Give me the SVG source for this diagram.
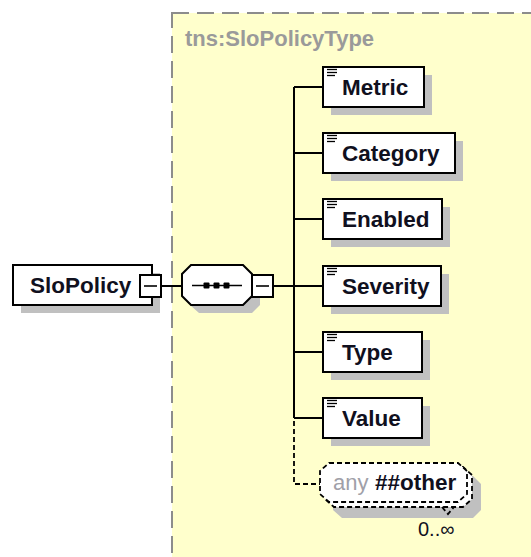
<svg xmlns="http://www.w3.org/2000/svg" width="531" height="557" viewBox="0 0 531 557">
  <defs>
    <style>
      .frame { fill: #ffffcc; stroke: #8c8c8c; stroke-width: 2; stroke-dasharray: 17 8; }
      .shadow { fill: #c0c0c0; stroke: none; }
      .box { fill: #ffffff; stroke: #000000; stroke-width: 2; }
      .dbox { fill: #ffffff; stroke: #000000; stroke-width: 1.8; stroke-dasharray: 5 3; }
      .wire { fill: none; stroke: #000000; stroke-width: 2; }
      .dwire { fill: none; stroke: #000000; stroke-width: 1.8; stroke-dasharray: 5 3; }
      .label { font-family: "Liberation Sans", Arial, sans-serif; font-size: 22.5px; font-weight: bold; fill: #10101e; }
      .type { font-family: "Liberation Sans", Arial, sans-serif; font-size: 22px; font-weight: bold; fill: #9a9a9a; }
      .grey { font-family: "Liberation Sans", Arial, sans-serif; font-size: 22px; fill: #a0a0a8; }
      .occ { font-family: "Liberation Sans", Arial, sans-serif; font-size: 20px; fill: #10101e; }
      .icon { stroke: #000000; stroke-width: 1.3; }
    </style>
    <!-- "documentation" marker drawn in the top-left of each element box -->
    <g id="doc-icon" class="icon">
      <line x1="0" y1="0.5" x2="10" y2="0.5"/>
      <line x1="0" y1="3.5" x2="10" y2="3.5"/>
      <line x1="0" y1="6.5" x2="8" y2="6.5"/>
    </g>
    <!-- collapse (minus) toggle -->
    <g id="minus">
      <rect x="0" y="0" width="21" height="22" class="box"/>
      <line x1="4" y1="11" x2="17" y2="11" stroke="#000" stroke-width="1.6"/>
    </g>
  </defs>

  <!-- complex type frame -->
  <rect class="frame" x="172" y="13" width="420" height="600"/>
  <text class="type" x="185" y="46">tns:SloPolicyType</text>

  <!-- connectors -->
  <g id="connectors">
    <line class="wire" x1="161" y1="286" x2="182" y2="286"/>
    <line class="wire" x1="272" y1="286" x2="294" y2="286"/>
    <line class="wire" x1="294" y1="87" x2="294" y2="418"/>
    <line class="wire" x1="294" y1="87" x2="323" y2="87"/>
    <line class="wire" x1="294" y1="153" x2="323" y2="153"/>
    <line class="wire" x1="294" y1="219" x2="323" y2="219"/>
    <line class="wire" x1="294" y1="286" x2="323" y2="286"/>
    <line class="wire" x1="294" y1="352" x2="323" y2="352"/>
    <line class="wire" x1="294" y1="418" x2="323" y2="418"/>
    <polyline class="dwire" points="294,421 294,484 321,484"/>
  </g>

  <!-- root element -->
  <g id="SloPolicy">
    <rect class="shadow" x="21" y="273" width="139" height="40"/>
    <rect class="box" x="13" y="265" width="139" height="40"/>
    <text class="label" x="30" y="293">SloPolicy</text>
    <use href="#minus" x="140" y="275"/>
  </g>

  <!-- sequence compositor -->
  <g id="sequence">
    <polygon class="shadow" points="199,273 252,273 260,281 260,305 252,313 199,313 190,305 190,281"/>
    <polygon class="box" points="191,265 243,265 252,274 252,296 243,305 191,305 182,296 182,274"/>
    <line x1="192" y1="285.5" x2="242" y2="285.5" stroke="#000" stroke-width="1.6"/>
    <rect x="203.5" y="282.5" width="6" height="6" rx="1" fill="#000"/>
    <rect x="213.5" y="282.5" width="6" height="6" rx="1" fill="#000"/>
    <rect x="223.5" y="282.5" width="6" height="6" rx="1" fill="#000"/>
    <use href="#minus" x="252" y="275"/>
  </g>

  <!-- child elements -->
  <g id="Metric">
    <rect class="shadow" x="331" y="75" width="101" height="40"/>
    <rect class="box" x="323" y="67" width="101" height="40"/>
    <use href="#doc-icon" x="327" y="69"/>
    <text class="label" x="342" y="95">Metric</text>
  </g>
  <g id="Category">
    <rect class="shadow" x="331" y="141" width="132" height="40"/>
    <rect class="box" x="323" y="133" width="132" height="40"/>
    <use href="#doc-icon" x="327" y="135"/>
    <text class="label" x="342" y="161">Category</text>
  </g>
  <g id="Enabled">
    <rect class="shadow" x="331" y="207" width="119" height="40"/>
    <rect class="box" x="323" y="199" width="119" height="40"/>
    <use href="#doc-icon" x="327" y="201"/>
    <text class="label" x="342" y="227">Enabled</text>
  </g>
  <g id="Severity">
    <rect class="shadow" x="331" y="274" width="118" height="40"/>
    <rect class="box" x="323" y="266" width="118" height="40"/>
    <use href="#doc-icon" x="327" y="268"/>
    <text class="label" x="342" y="294">Severity</text>
  </g>
  <g id="Type">
    <rect class="shadow" x="331" y="340" width="99" height="40"/>
    <rect class="box" x="323" y="332" width="99" height="40"/>
    <use href="#doc-icon" x="327" y="334"/>
    <text class="label" x="342" y="360">Type</text>
  </g>
  <g id="Value">
    <rect class="shadow" x="331" y="406" width="99" height="40"/>
    <rect class="box" x="323" y="398" width="99" height="40"/>
    <use href="#doc-icon" x="327" y="400"/>
    <text class="label" x="342" y="426">Value</text>
  </g>

  <!-- wildcard: any ##other, 0..unbounded -->
  <g id="any">
    <polygon class="shadow" points="342,476 473,476 481,484 481,510 473,518 342,518 333,510 333,484"/>
    <polygon class="dbox" points="334,467 463,467 472,475 472,499 463,507 334,507 325,499 325,475"/>
    <polygon class="dbox" points="329,463 458,463 467,471 467,494 458,502 329,502 320,494 320,471"/>
    <polyline class="dwire" points="442,507 448,514 454,507" stroke-dasharray="none"/>
    <text class="grey" x="333" y="490">any</text>
    <text class="label" x="375" y="490" font-size="22px">##other</text>
    <text class="occ" x="418" y="536">0..∞</text>
  </g>
</svg>
